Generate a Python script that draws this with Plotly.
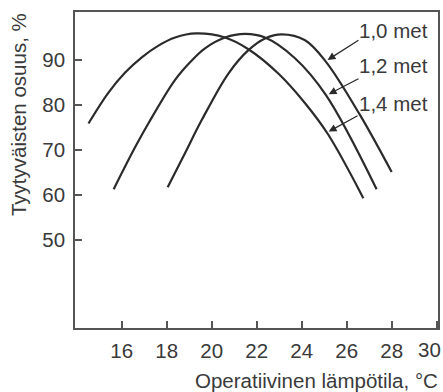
import plotly.graph_objects as go

# Data
met_labels = ["1,0 met", "1,2 met", "1,4 met"]

temp_10 = [18.04, 18.81, 19.56, 20.74, 21.63, 22.37, 23.11, 24.15, 25.08, 26.59, 28.0]
sat_10 = [61.7, 69.3, 76.7, 87.0, 92.2, 94.8, 95.7, 94.4, 89.6, 77.8, 65.1]

temp_12 = [15.64, 16.59, 17.18, 18.37, 19.11, 19.70, 20.59, 21.48, 22.37, 23.70, 25.08, 27.33]
sat_12 = [61.3, 70.6, 75.9, 85.6, 89.9, 92.6, 95.0, 95.8, 95.0, 90.4, 82.2, 61.3]

temp_14 = [14.52, 15.40, 16.15, 16.89, 17.63, 18.37, 19.30, 20.59, 21.63, 22.96, 24.15, 25.17, 26.74]
sat_14 = [75.9, 82.7, 87.2, 90.6, 93.2, 95.0, 95.9, 95.0, 92.4, 87.0, 80.4, 73.5, 59.3]

x_ticks = [16, 18, 20, 22, 24, 26, 28, 30]
x_ticklabels = ["16", "18", "20", "22", "24", "26", "28", "30"]
y_ticks = [50, 60, 70, 80, 90]

# label positions (data coords) and arrow tail/tip
label_x = [29.7, 29.7, 29.7]
label_y = [96.6, 88.8, 80.4]
arrow_tail_x = [26.59, 26.59, 26.55]
arrow_tail_y = [94.6, 86.0, 77.8]
arrow_tip_x = [25.15, 25.2, 25.2]
arrow_tip_y = [90.0, 82.4, 74.1]

x_title = "Operatiivinen lämpötila, °C"
y_title = "Tyytyväisten osuus, %"

line_color = "#2b2b2b"
text_color = "#3a3a3a"
font_family = "Liberation Sans, Arial, Helvetica, sans-serif"
fs = 20.5

fig = go.Figure()
for xs, ys in [(temp_10, sat_10), (temp_12, sat_12), (temp_14, sat_14)]:
    fig.add_trace(go.Scatter(x=xs, y=ys, mode="lines",
                             line=dict(color=line_color, width=2.2, shape="spline", smoothing=1.0),
                             showlegend=False, hoverinfo="skip"))

for i, lab in enumerate(met_labels):
    fig.add_annotation(x=label_x[i], y=label_y[i], xref="x", yref="y", text=lab,
                       showarrow=False, xanchor="right", yanchor="middle",
                       font=dict(size=fs, color=text_color, family=font_family))
    fig.add_annotation(x=arrow_tip_x[i], y=arrow_tip_y[i], ax=arrow_tail_x[i], ay=arrow_tail_y[i],
                       xref="x", yref="y", axref="x", ayref="y", text="",
                       showarrow=True, arrowhead=2, arrowsize=1.2, arrowwidth=1.3,
                       arrowcolor=line_color)

# the last tick label sits flush against the right edge in the original, so it is placed as a right-anchored label
tick_text_axis = x_ticklabels[:-1] + [""]
fig.add_annotation(x=x_ticks[-1], y=-0.068, xref="x", yref="paper", text=x_ticklabels[-1],
                   showarrow=False, xanchor="right", yanchor="middle", xshift=6,
                   font=dict(size=fs, color=text_color, family=font_family))

fig.add_annotation(x=1.006, y=-0.165, xref="paper", yref="paper", text=x_title,
                   showarrow=False, xanchor="right", yanchor="middle",
                   font=dict(size=fs, color=text_color, family=font_family))
fig.add_annotation(x=-0.157, y=0.674, xref="paper", yref="paper", text=y_title,
                   showarrow=False, xanchor="center", yanchor="middle", textangle=-90,
                   font=dict(size=fs, color=text_color, family=font_family))

axis_common = dict(showgrid=False, zeroline=False, showline=True, mirror=True,
                   linecolor="#555555", linewidth=1.6, ticks="inside", ticklen=7,
                   tickwidth=1.5, tickcolor="#555555", automargin=False,
                   tickfont=dict(size=fs, color=text_color, family=font_family))

fig.update_layout(
    width=443, height=392,
    margin=dict(l=75, r=5, t=12, b=64),
    paper_bgcolor="white", plot_bgcolor="white",
    xaxis=dict(range=[13.92, 30.06], tickvals=x_ticks, ticktext=tick_text_axis,
               ticklabelstandoff=4, **axis_common),
    yaxis=dict(range=[30.44, 100.67], tickvals=y_ticks, ticklabelstandoff=4, **axis_common),
)

# remove the default page margin so the figure fills the window exactly
fig.write_html("out.html",
               config={"displayModeBar": False},
               post_script="document.body.style.margin='0';document.body.style.overflow='hidden';")
